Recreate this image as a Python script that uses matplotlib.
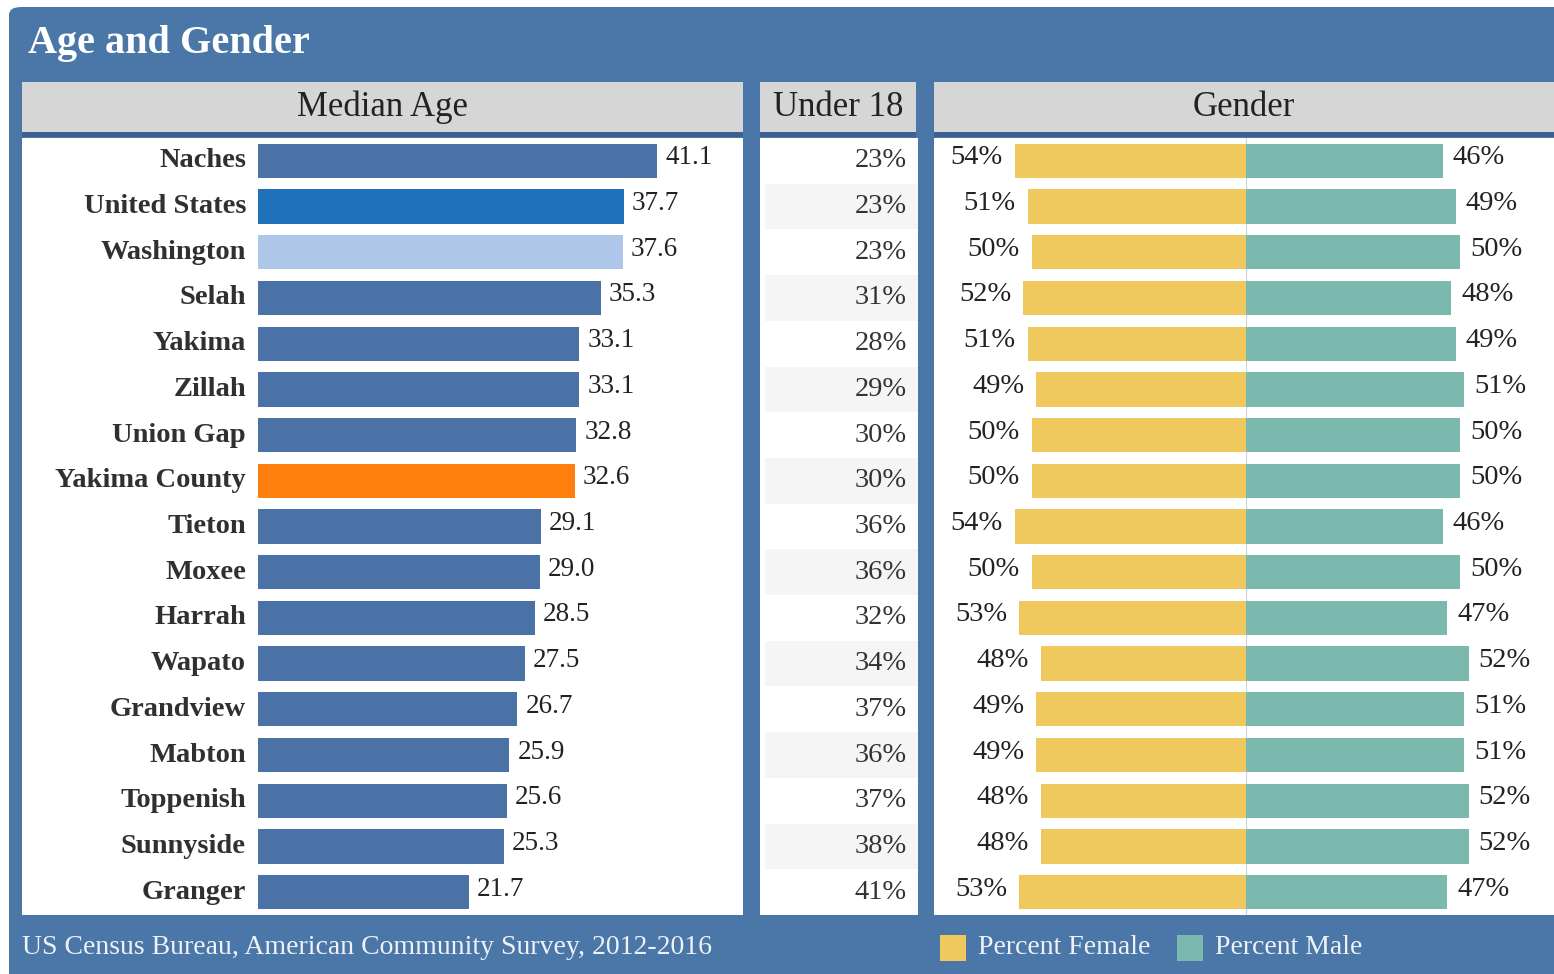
import matplotlib
matplotlib.use("Agg")
import matplotlib.pyplot as plt
from matplotlib.patches import FancyBboxPatch, Rectangle

# ---- data -------------------------------------------------------------
places = ["Naches", "United States", "Washington", "Selah", "Yakima", "Zillah",
          "Union Gap", "Yakima County", "Tieton", "Moxee", "Harrah", "Wapato",
          "Grandview", "Mabton", "Toppenish", "Sunnyside", "Granger"]
median_age = [41.1, 37.7, 37.6, 35.3, 33.1, 33.1, 32.8, 32.6, 29.1, 29.0,
              28.5, 27.5, 26.7, 25.9, 25.6, 25.3, 21.7]
under_18 = [23, 23, 23, 31, 28, 29, 30, 30, 36, 36, 32, 34, 37, 36, 37, 38, 41]
pct_female = [54, 51, 50, 52, 51, 49, 50, 50, 54, 50, 53, 48, 49, 49, 48, 48, 53]
pct_male = [46, 49, 50, 48, 49, 51, 50, 50, 46, 50, 47, 52, 51, 51, 52, 52, 47]

title = "Age and Gender"
headers = ["Median Age", "Under 18", "Gender"]
source = "US Census Bureau, American Community Survey, 2012-2016"
legend_labels = ["Percent Female", "Percent Male"]

# ---- styling ----------------------------------------------------------
W, H = 1554, 974
FONT = "Liberation Serif"
PANEL_BLUE = "#4a76a8"
HEADER_GRAY = "#d6d6d6"
HEADER_RULE = "#3d6093"
BAR_BLUE = "#4a72a6"
HIGHLIGHT = {"United States": "#1f72ba", "Washington": "#aec7e8",
             "Yakima County": "#ff7f0e"}
FEMALE = "#f0c95e"
MALE = "#7bb8ad"
TEXT = "#222222"

plt.rcParams["font.family"] = [FONT, "DejaVu Serif"]

fig = plt.figure(figsize=(W / 100, H / 100), dpi=100)
fig.patch.set_facecolor("white")


def box(x, y, w, h):
    """Pixel box (top-left origin) -> figure fraction rect."""
    return [x / W, 1 - (y + h) / H, w / W, h / H]


# rounded blue background panel, kept beneath every axes
bg = FancyBboxPatch((9 / W, -0.05), 1.2, 1 - 7 / H + 0.05,
                    boxstyle="round,pad=0,rounding_size=0.008",
                    transform=fig.transFigure, facecolor=PANEL_BLUE,
                    edgecolor="none", zorder=-5)
fig.patches.append(bg)

fig.text(28 / W, 1 - 43 / H, title, color="white", fontsize=29,
         fontweight="bold", va="center", ha="left")

# header strips with a darker rule beneath each
header_boxes = [(22, 82, 721, 50), (760, 82, 156, 50), (934, 82, 620, 50)]
for (x, y, w, h), label in zip(header_boxes, headers):
    hax = fig.add_axes(box(x, y, w, h))
    hax.set_facecolor(HEADER_GRAY)
    hax.set_xticks([]); hax.set_yticks([])
    for s in hax.spines.values():
        s.set_visible(False)
    hax.text(0.5, 0.5, label, ha="center", va="center", fontsize=25,
             color=TEXT, transform=hax.transAxes)
    fig.patches.append(Rectangle((x / W, 1 - (y + h + 5) / H), w / W, 5 / H,
                                 transform=fig.transFigure,
                                 facecolor=HEADER_RULE, edgecolor="none",
                                 zorder=-4))

n = len(places)
rows = list(range(n))
BAR_H = 0.75


def clean(ax):
    ax.set_xticks([]); ax.set_yticks([])
    for s in ax.spines.values():
        s.set_visible(False)
    ax.set_ylim(n - 0.5, -0.5)


# ---- median age panel -------------------------------------------------
ax1 = fig.add_axes(box(22, 138, 721, 777))
clean(ax1)
ax1.set_facecolor("white")
px_per_year = 9.71
ax1.set_xlim(-(258 - 22) / px_per_year, (743 - 258) / px_per_year)
colors = [HIGHLIGHT.get(p, BAR_BLUE) for p in places]
ax1.barh(rows, median_age, height=BAR_H, color=colors, zorder=2)
for i, (p, v) in enumerate(zip(places, median_age)):
    ax1.annotate(p, (0, i), xytext=(-12, 0), textcoords="offset pixels",
                 ha="right", va="center", fontsize=20.5, color="#303030",
                 fontweight="bold")
    ax1.annotate(f"{v:.1f}", (v, i), xytext=(8, 3), textcoords="offset pixels",
                 ha="left", va="center", fontsize=19.5, color=TEXT)

# ---- under 18 panel ---------------------------------------------------
ax2 = fig.add_axes(box(760, 138, 158, 777))
clean(ax2)
ax2.set_facecolor("white")
ax2.set_xlim(0, 1)
for i in rows:
    if i % 2 == 1:
        ax2.add_patch(Rectangle((0.03, i - 0.5), 0.97, 1.0,
                                facecolor="#f5f5f5", edgecolor="none"))
for i, v in enumerate(under_18):
    ax2.annotate(f"{v}%", (1, i), xytext=(-11, 0), textcoords="offset pixels",
                 ha="right", va="center", fontsize=20.5, color="#333333")

# ---- gender panel -----------------------------------------------------
ax3 = fig.add_axes(box(934, 138, 620, 777))
clean(ax3)
ax3.set_facecolor("white")
px_per_pct = 4.28
ax3.set_xlim(-(1246 - 934) / px_per_pct, (1554 - 1246) / px_per_pct)
ax3.axvline(0, color="#d0d0d0", lw=0.8, zorder=1)
ax3.barh(rows, [-f for f in pct_female], height=BAR_H, color=FEMALE, zorder=2)
ax3.barh(rows, pct_male, height=BAR_H, color=MALE, zorder=2)
for i, (f, m) in enumerate(zip(pct_female, pct_male)):
    ax3.annotate(f"{f}%", (-f, i), xytext=(-12, 3), textcoords="offset pixels",
                 ha="right", va="center", fontsize=20.5, color=TEXT)
    ax3.annotate(f"{m}%", (m, i), xytext=(10, 3), textcoords="offset pixels",
                 ha="left", va="center", fontsize=20.5, color=TEXT)

# ---- footer -----------------------------------------------------------
fig.text(22 / W, 1 - 947 / H, source, color="#eef2f7", fontsize=20,
         va="center", ha="left")
for (x, color), label in zip([(940, FEMALE), (1177, MALE)], legend_labels):
    fig.patches.append(Rectangle((x / W, 1 - 961 / H), 26 / W, 26 / H,
                                 transform=fig.transFigure, facecolor=color,
                                 edgecolor="none"))
    fig.text((x + 38) / W, 1 - 948 / H, label, color="#eef2f7", fontsize=20,
             va="center", ha="left")

fig.savefig("out.png", dpi=100, facecolor=fig.get_facecolor())
